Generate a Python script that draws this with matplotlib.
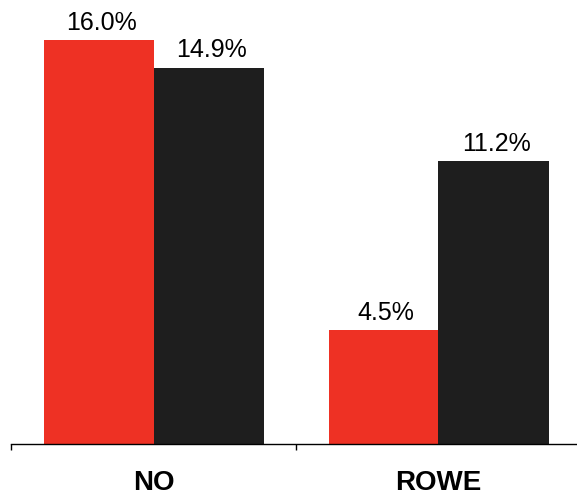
import numpy as np
import matplotlib
matplotlib.use("Agg")
import matplotlib.pyplot as plt

categories = ["NO", "ROWE"]
red_vals = [16.0, 4.5]
black_vals = [14.9, 11.2]

RED = "#EE3124"
BLACK = "#1E1E1E"

plt.rcParams["font.family"] = ["Liberation Sans", "DejaVu Sans"]

fig = plt.figure(figsize=(5.77, 4.95), dpi=100)
ax = fig.add_axes([11 / 577, 51 / 495, 570 / 577, 429 / 495])

x = np.arange(len(categories))
w = 110 / 285
b1 = ax.bar(x - w / 2, red_vals, w, color=RED)
b2 = ax.bar(x + w / 2, black_vals, w, color=BLACK)

for bars, vals in ((b1, red_vals), (b2, black_vals)):
    for rect, v in zip(bars, vals):
        ax.annotate(f"{v:.1f}%", (rect.get_x() + rect.get_width() / 2, v),
                    xytext=(2, 4), textcoords="offset points",
                    ha="center", va="bottom", fontsize=18)

ax.set_xlim(-0.5, 1.5)
ax.set_ylim(0, 17)

# group separators as major ticks, category names as unticked minor labels
ax.set_xticks([-0.5, 0.5, 1.5])
ax.set_xticklabels([])
ax.tick_params(axis="x", which="major", direction="out", length=4.5, width=1)
ax.set_xticks(x, minor=True)
ax.set_xticklabels(categories, minor=True, fontsize=20, fontweight="bold")
ax.tick_params(axis="x", which="minor", length=0, pad=19)

ax.set_yticks([])
for s in ("top", "right", "left"):
    ax.spines[s].set_visible(False)
ax.spines["bottom"].set_linewidth(1)

fig.savefig("out.png", dpi=100)
